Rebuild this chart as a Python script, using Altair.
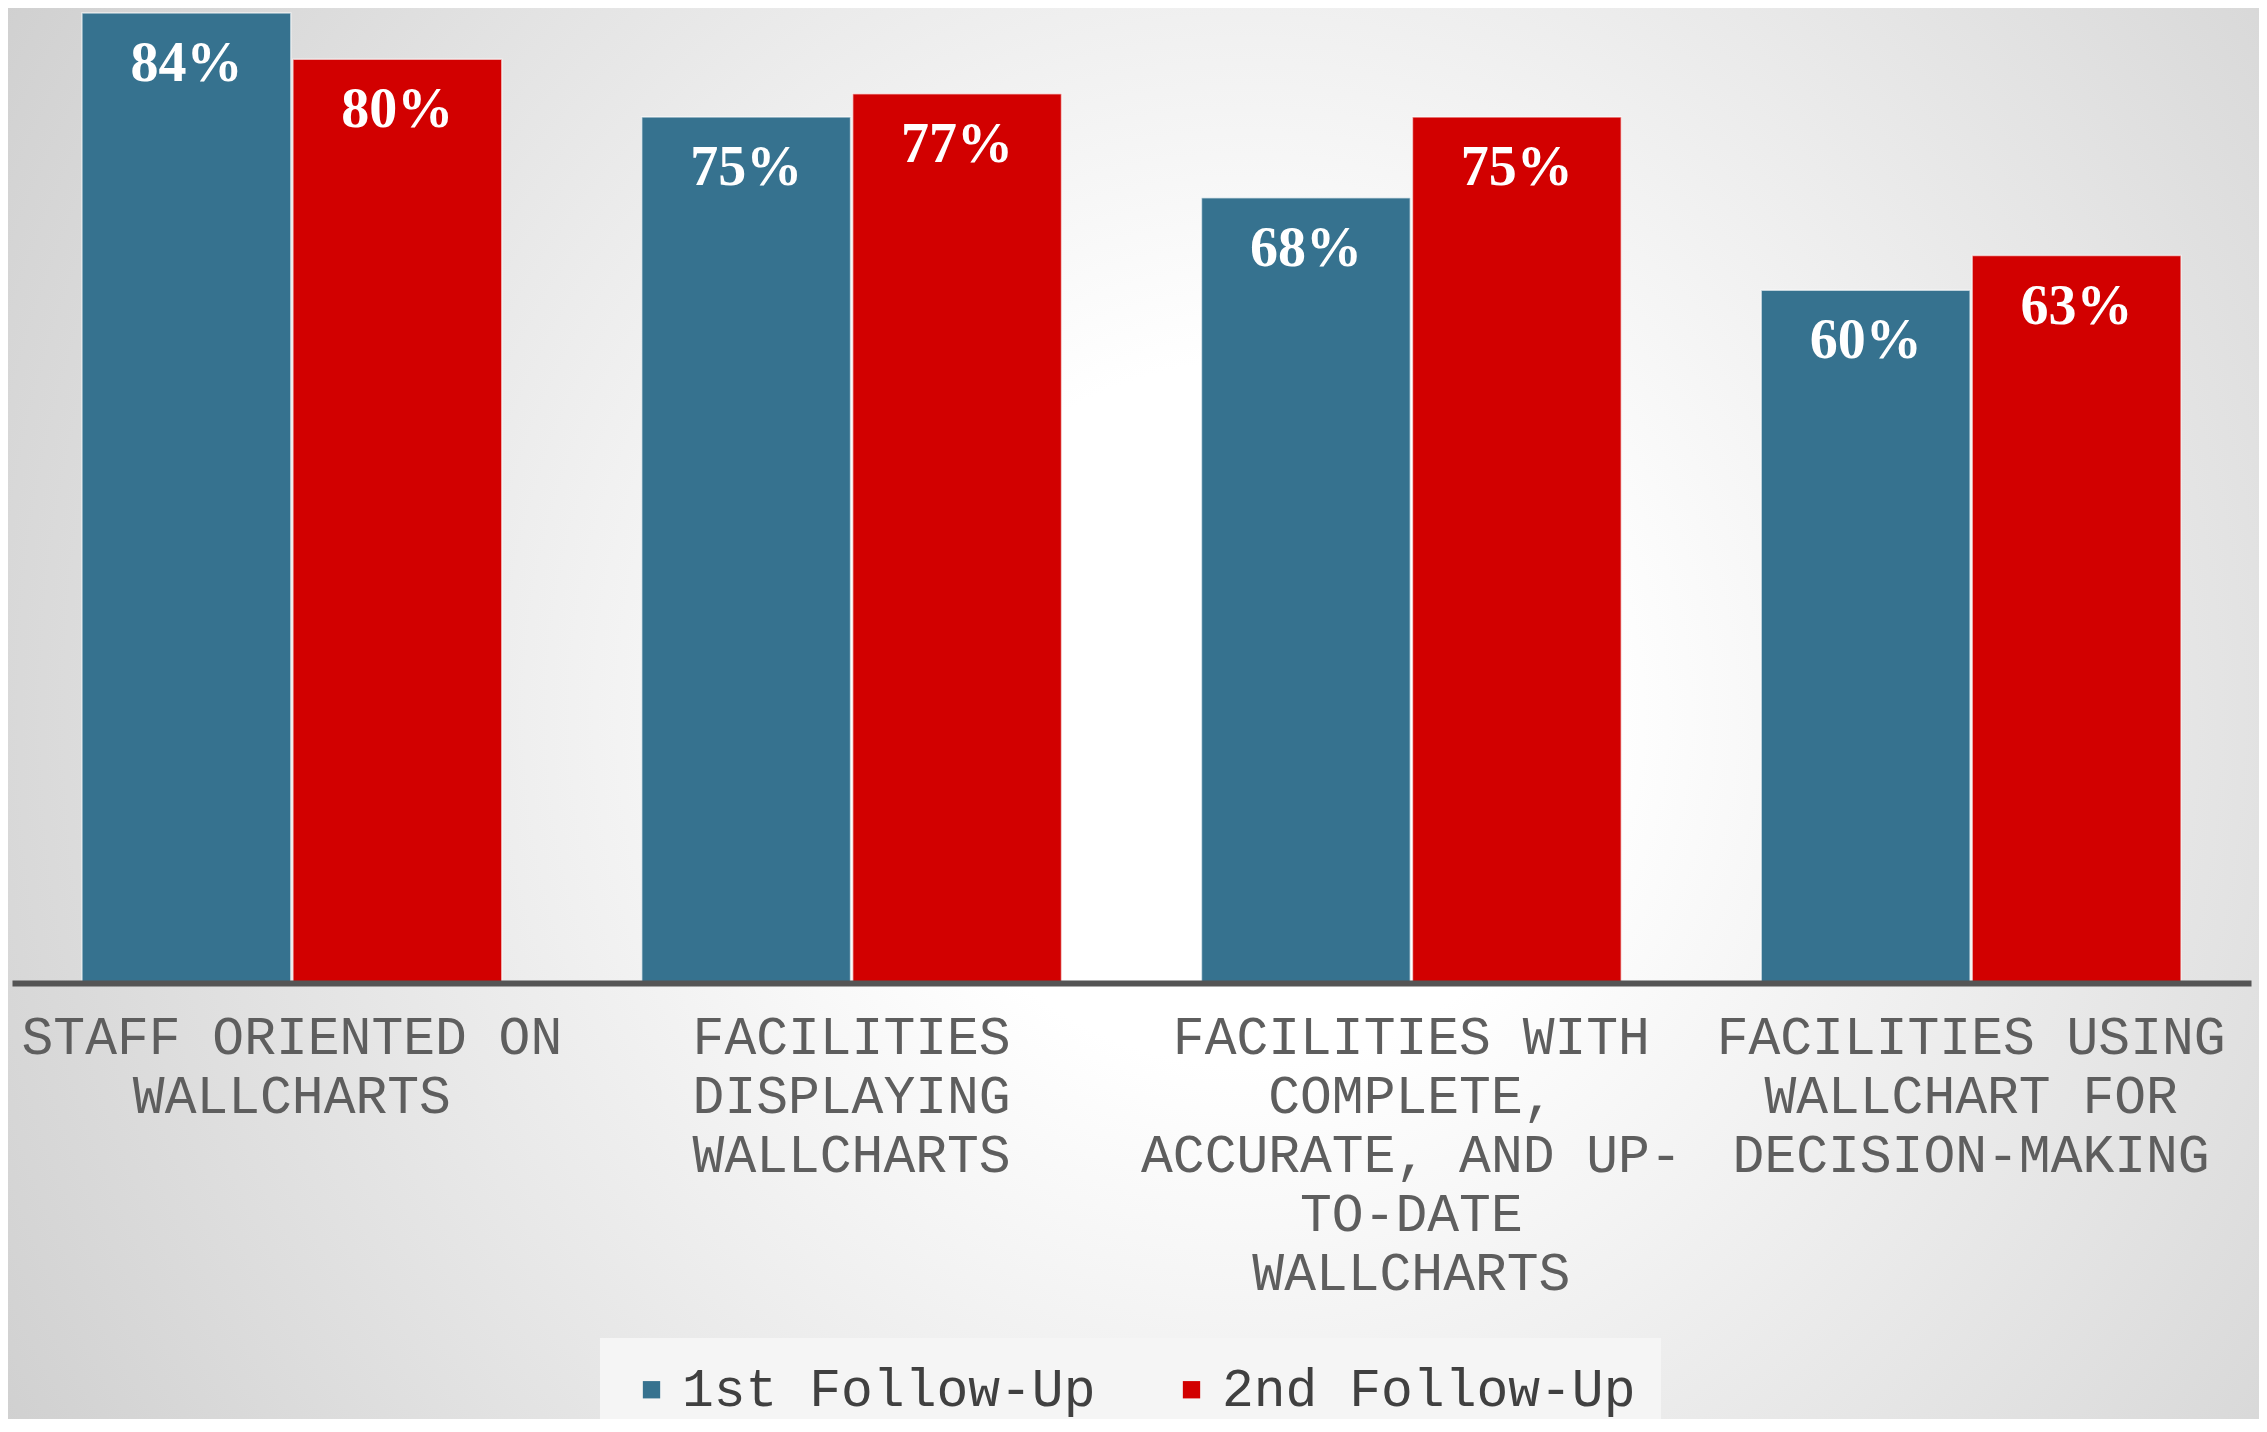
import altair as alt
import pandas as pd

categories = [
    "STAFF ORIENTED ON|WALLCHARTS",
    "FACILITIES|DISPLAYING|WALLCHARTS",
    "FACILITIES WITH|COMPLETE,|ACCURATE, AND UP-|TO-DATE|WALLCHARTS",
    "FACILITIES USING|WALLCHART FOR|DECISION-MAKING",
]
series = ["1st Follow-Up", "2nd Follow-Up"]
first_follow_up = [84, 75, 68, 60]
second_follow_up = [80, 77, 75, 63]
colors = ["#36728f", "#d20000"]

rows = []
for cat, a, b in zip(categories, first_follow_up, second_follow_up):
    rows.append({"category": cat, "series": series[0], "value": a, "label": f"{a}%"})
    rows.append({"category": cat, "series": series[1], "value": b, "label": f"{b}%"})
df = pd.DataFrame(rows)

W, H = 2239, 970
PL, PT, PR, PB = 4, 5, 8, 436

bg = alt.Chart(pd.DataFrame({"k": [0]})).mark_rect(
    fill=alt.Gradient(
        gradient="radial",
        stops=[
            alt.GradientStop(color="#ffffff", offset=0),
            alt.GradientStop(color="#ffffff", offset=0.2),
            alt.GradientStop(color="#c2c2c2", offset=1),
        ],
        x1=0.55, y1=0.5, r1=0, x2=0.55, y2=0.5, r2=0.78,
    )
).encode(
    x=alt.value(-PL), x2=alt.value(W + PR),
    y=alt.value(-PT), y2=alt.value(H + PB),
)

x_enc = alt.X(
    "category:N", sort=categories,
    scale=alt.Scale(paddingInner=0.25, paddingOuter=0.125),
    axis=alt.Axis(
        title=None, labelAngle=0, ticks=False, zindex=2,
        labelExpr="split(datum.label, '|')",
        labelFont="Liberation Mono", labelFontSize=53, labelLineHeight=59,
        labelColor="#5e5e5e", labelPadding=28, labelLimit=1000,
        labelOverlap=False, labelBound=False, labelBaseline="top",
        domainColor="#555555", domainWidth=6,
    ),
)
xoff = alt.XOffset("series:N", sort=series, scale=alt.Scale(paddingInner=0.01))
y_enc = alt.Y("value:Q", scale=alt.Scale(domain=[0, 84]), axis=None)

bars = alt.Chart(df).mark_bar(stroke="#ffffff", strokeWidth=1.5, strokeOpacity=0.6).encode(
    x=x_enc, xOffset=xoff, y=y_enc,
    color=alt.Color(
        "series:N", sort=series,
        scale=alt.Scale(domain=series, range=colors),
        legend=alt.Legend(
            title=None, orient="none", direction="horizontal",
            legendX=588, legendY=1325,
            symbolType="square", symbolSize=300, symbolStrokeWidth=0,
            labelFont="Liberation Mono", labelFontSize=53, labelColor="#404040",
            labelOffset=4, columnPadding=69, padding=25, labelLimit=1000,
            fillColor="#f5f5f5", zindex=2,
        ),
    ),
)

texts = alt.Chart(df).mark_text(
    font="Liberation Serif", fontWeight="bold", fontSize=56,
    color="#ffffff", baseline="middle", dy=51,
).encode(x=alt.X("category:N", sort=categories), xOffset=xoff, y=y_enc, text="label:N")

chart = alt.layer(bg, bars, texts).properties(
    width=W, height=H,
    autosize=alt.AutoSizeParams(type="none"),
    padding={"left": PL, "top": PT, "right": PR, "bottom": PB},
    background="#d0d0d0",
).configure_view(stroke=None)

chart.save("out.html", embed_options={"renderer": "svg", "actions": False})
